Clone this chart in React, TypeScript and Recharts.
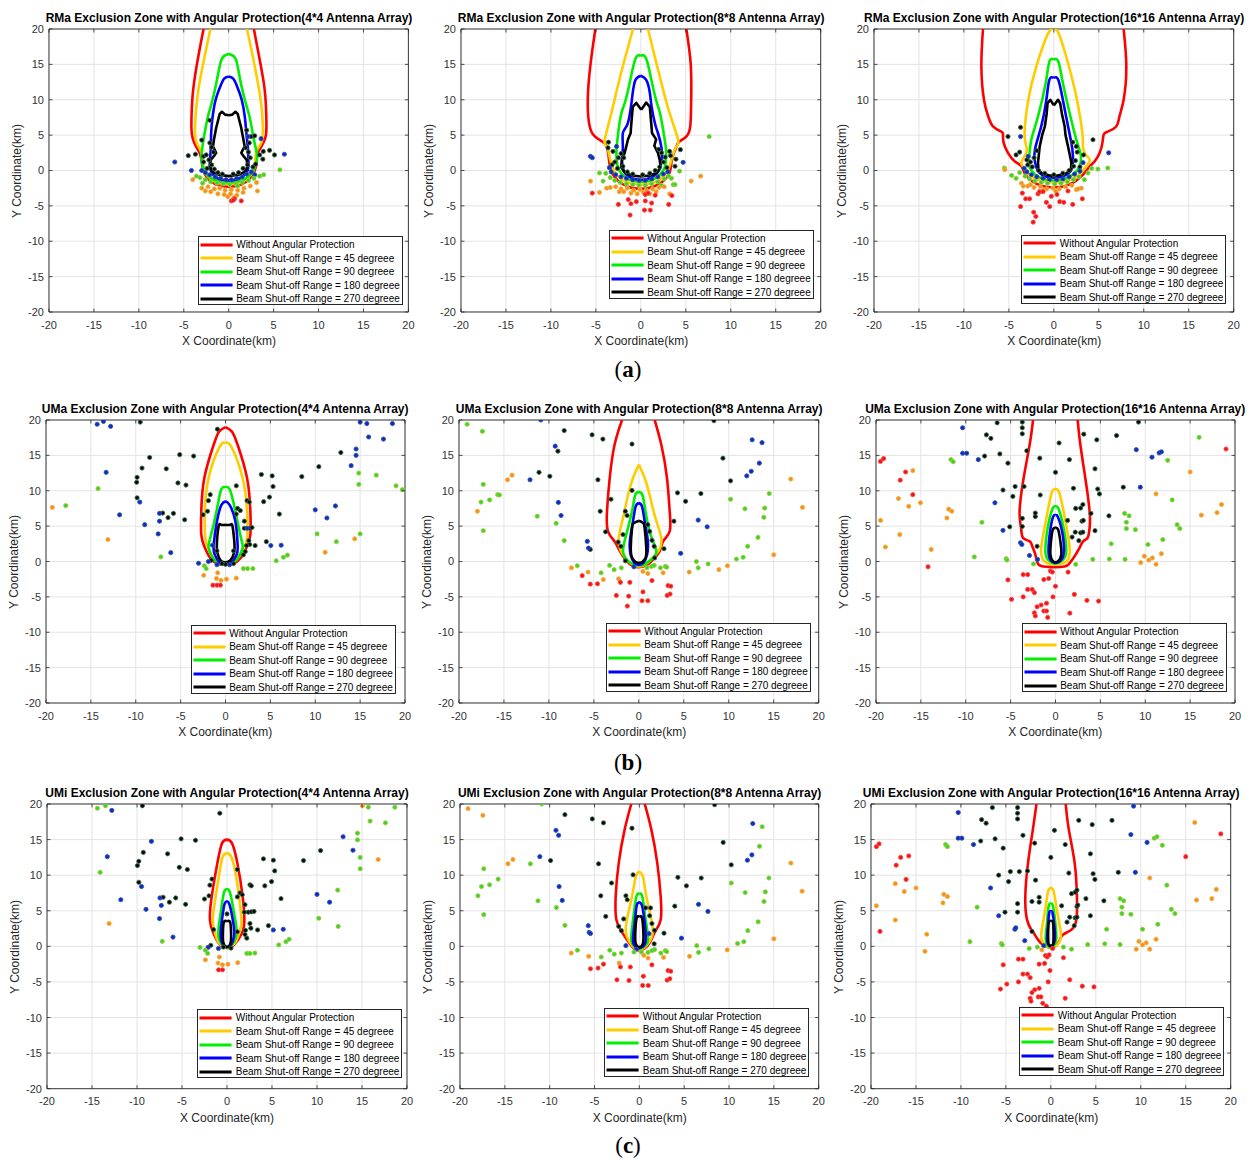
import { ScatterChart, Scatter, XAxis, YAxis, CartesianGrid, ReferenceArea, Legend } from 'recharts';

type Pt = [number, number];
type Dot = [number, number, string];

const FONT = '"Liberation Sans", Arial, Helvetica, sans-serif';

const axisTicks = [-20, -15, -10, -5, 0, 5, 10, 15, 20];

const seriesNames = [
    'Without Angular Protection',
    'Beam Shut-off Range = 45 degreee',
    'Beam Shut-off Range = 90 degreee',
    'Beam Shut-off Range = 180 degreee',
    'Beam Shut-off Range = 270 degreee',
];
const seriesColors = ['#ff0000', '#ffcc00', '#00ee00', '#0000ff', '#000000'];

// marker colours for the user points
const dotKinds = ['k', 'b', 'g', 'o', 'r'];
const dotFill: Record<string, string> = { k: '#050505', b: '#0a2ad0', g: '#30d830', o: '#ff8a1c', r: '#ee1515' };
const dotEdge: Record<string, string> = { k: '#3c6e4c', b: '#35569a', g: '#a8c83a', o: '#e4b848', r: '#ff4a4a' };

// ---------- RMa ----------
const rma4Curves: Pt[][] = [
    [[-2.8, 20], [-3.4, 16], [-3.9, 12], [-4.1, 9], [-4.15, 6], [-4.0, 4.5], [-3.6, 3.3], [-3.2, 2.4], [-3.0, 1.2], [-2.8, 0], [-2.3, -1.2], [-1.4, -2.0], [0, -2.3], [1.4, -2.0], [2.3, -1.2], [2.9, 0], [3.1, 1.2], [3.2, 2.4], [3.6, 3.3], [4.05, 4.5], [4.2, 6], [4.15, 9], [3.95, 12], [3.4, 16], [2.8, 20]],
    [[-2.04, 20], [-2.7, 16], [-3.3, 12], [-3.6, 9], [-3.75, 6], [-3.6, 4], [-3.15, 2.9], [-2.9, 1.5], [-2.7, 0], [-2.1, -1.1], [-1.2, -1.7], [0, -1.9], [1.2, -1.7], [2.1, -1.1], [2.75, 0], [2.95, 1.5], [3.15, 2.9], [3.65, 4], [3.8, 6], [3.65, 9], [3.3, 12], [2.7, 16], [2.04, 20]],
    [[0, 16.5], [-0.5, 16.2], [-0.9, 15.3], [-1.37, 12.4], [-1.9, 9.5], [-2.3, 7.7], [-2.6, 5.8], [-2.8, 4.4], [-3.0, 2.6], [-3.0, 1.2], [-2.6, -0.3], [-1.8, -1.2], [-0.9, -1.6], [0, -1.7], [0.9, -1.6], [1.8, -1.2], [2.6, -0.3], [3.1, 1.2], [3.1, 2.6], [2.8, 4.4], [2.6, 5.8], [2.3, 7.7], [1.9, 9.5], [1.34, 12.4], [0.9, 15.3], [0.5, 16.2], [0, 16.5]],
    [[0, 13.3], [-0.5, 13.0], [-0.9, 12.0], [-1.45, 10], [-1.8, 7.5], [-1.95, 5.3], [-2.0, 2.9], [-2.1, 1.2], [-2.0, 0], [-1.5, -0.9], [-0.8, -1.3], [0, -1.4], [0.8, -1.3], [1.5, -0.9], [2.1, 0], [2.2, 1.2], [2.15, 2.9], [1.97, 5.3], [1.8, 7.5], [1.45, 10], [0.9, 12], [0.5, 13], [0, 13.3]],
    [[0, 7.8], [-0.4, 7.9], [-0.75, 8.3], [-1.0, 8.0], [-1.2, 7.0], [-1.4, 6.0], [-1.5, 5.3], [-1.65, 4.3], [-1.75, 3.4], [-1.4, 2.5], [-1.6, 2.1], [-2.0, 1.5], [-2.1, 0.6], [-1.8, -0.2], [-1.1, -0.6], [0, -0.8], [1.1, -0.6], [1.8, -0.2], [2.1, 0.6], [2.0, 1.5], [1.6, 2.1], [1.4, 2.5], [1.78, 3.4], [1.65, 4.3], [1.5, 5.3], [1.4, 6.0], [1.2, 7.0], [1.0, 8.0], [0.75, 8.3], [0.4, 7.9], [0, 7.8]],
];
const rma4Dots: Dot[] = [
    [-6.0, 1.2, 'b'], [-4.5, 2.1, 'k'], [-3.7, 2.3, 'k'], [-3.0, 4.3, 'k'], [-2.1, 7.1, 'k'], [-2.1, 3.9, 'k'], [-2.8, 2.0, 'k'], [-1.9, 3.3, 'k'], [-1.7, 2.6, 'k'], [-2.5, 2.2, 'k'], [-2.2, 1.5, 'k'], [-1.9, 0.8, 'k'], [-2.4, 0.3, 'k'], [-1.6, 0.2, 'k'], [-1.2, -0.3, 'k'], [-0.7, -0.5, 'k'], [0.5, -0.5, 'k'], [1.1, -0.3, 'k'], [1.6, 0.3, 'k'], [2.1, 0.8, 'k'], [2.4, 1.8, 'k'], [2.2, 2.6, 'k'], [1.9, 3.2, 'k'], [2.7, 0.5, 'k'], [3.0, 0.9, 'k'], [-2.8, 1.2, 'k'], [2.3, 3.9, 'k'], [2.0, 5.7, 'k'], [2.5, 4.8, 'k'], [2.9, 4.9, 'k'], [3.45, 2.2, 'k'], [3.85, 2.7, 'k'], [3.8, 1.6, 'k'], [4.55, 2.85, 'k'], [5.1, 2.2, 'k'],
    [2.15, 4.8, 'b'], [3.6, 4.5, 'b'], [6.2, 2.3, 'b'], [-4.15, 0, 'b'], [-2.6, -0.3, 'b'], [-2.1, -0.6, 'b'], [-1.5, -0.9, 'b'], [-0.9, -1.1, 'b'], [-0.3, -1.3, 'b'], [0.3, -1.3, 'b'], [0.9, -1.1, 'b'], [1.5, -0.9, 'b'], [2.0, -0.5, 'b'], [2.5, -0.2, 'b'], [-3.0, 0.0, 'b'], [2.9, -0.6, 'b'],
    [5.7, 0.1, 'g'], [3.9, -0.6, 'g'], [3.45, -0.8, 'g'], [-3.6, -0.8, 'g'], [-3.2, -1.0, 'g'], [-2.6, -1.3, 'g'], [-2.0, -1.6, 'g'], [-1.3, -1.8, 'g'], [-0.6, -1.9, 'g'], [0.1, -2.0, 'g'], [0.8, -1.9, 'g'], [1.5, -1.7, 'g'], [2.2, -1.4, 'g'], [2.8, -1.1, 'g'], [-2.9, -1.8, 'g'], [1.0, -2.2, 'g'],
    [3.1, -1.7, 'o'], [3.2, -2.9, 'o'], [-4.0, -1.3, 'o'], [-3.0, -2.5, 'o'], [-2.3, -2.3, 'o'], [-1.6, -2.6, 'o'], [-1.0, -2.5, 'o'], [-0.4, -2.8, 'o'], [0.3, -2.7, 'o'], [1.0, -2.8, 'o'], [1.7, -2.5, 'o'], [2.4, -2.2, 'o'], [-2.0, -3.0, 'o'], [-1.2, -3.3, 'o'], [-0.5, -3.4, 'o'], [0.2, -3.3, 'o'], [0.9, -3.5, 'o'], [1.6, -3.1, 'o'], [-2.6, -2.9, 'o'], [-0.1, -3.7, 'o'], [0.6, -3.8, 'o'],
    [1.4, -4.3, 'r'], [0.3, -4.3, 'r'], [0.65, -4.0, 'r'], [0.5, -4.2, 'r'],
];

const rma8Curves: Pt[][] = [
    [[-5.06, 20], [-5.6, 15], [-5.9, 10], [-5.7, 6.3], [-5.1, 4.8], [-4.3, 4.1], [-3.8, 3.4], [-3.6, 2.2], [-3.5, 1.1], [-3.2, -0.3], [-2.5, -1.5], [-1.4, -2.3], [0, -2.6], [1.4, -2.3], [2.5, -1.5], [3.2, -0.3], [3.4, 1.1], [3.6, 2.2], [3.95, 3.4], [4.3, 4.1], [5.06, 4.8], [5.5, 6.3], [5.6, 10], [5.55, 15], [5.06, 20]],
    [[-0.87, 20], [-1.5, 17.1], [-2.47, 12.4], [-3.28, 8.1], [-4.0, 4.4], [-3.9, 3.5], [-3.65, 2.95], [-3.4, 1.5], [-3.0, 0], [-2.2, -1.2], [-1.2, -1.8], [0, -2.0], [1.2, -1.8], [2.2, -1.2], [3.0, 0], [3.4, 1.5], [3.76, 2.95], [4.0, 3.5], [4.13, 4.4], [3.2, 8.1], [2.28, 12.4], [1.35, 17.1], [0.8, 20]],
    [[0, 16.2], [-0.6, 15.8], [-1.24, 12.4], [-1.8, 9.5], [-2.24, 7.7], [-2.6, 4.4], [-2.7, 3.0], [-2.7, 1.5], [-2.4, 0], [-1.7, -1.0], [-0.9, -1.5], [0, -1.6], [0.9, -1.5], [1.7, -1.0], [2.5, 0], [2.8, 1.5], [2.8, 3.0], [2.65, 4.4], [2.2, 7.7], [1.8, 9.5], [1.24, 12.4], [0.6, 15.8], [0, 16.2]],
    [[0, 13.4], [-0.6, 12.8], [-0.9, 11], [-1.1, 9], [-1.5, 6.5], [-2.0, 5.3], [-2.0, 3.2], [-2.1, 1.5], [-1.9, 0], [-1.4, -0.8], [-0.7, -1.2], [0, -1.3], [0.7, -1.2], [1.4, -0.8], [2.0, 0], [2.3, 1.5], [2.3, 3.2], [1.9, 5.3], [1.6, 6.5], [1.2, 9], [1.0, 11], [0.6, 12.8], [0, 13.4]],
    [[0.05, 8.6], [-0.5, 9.55], [-0.9, 9.0], [-1.0, 7.5], [-1.1, 6.0], [-1.13, 5.3], [-1.43, 4.4], [-1.6, 3.5], [-1.8, 2.5], [-2.1, 1.5], [-2.2, 0.5], [-1.8, -0.3], [-1.0, -0.7], [0, -0.85], [1.0, -0.7], [1.8, -0.3], [2.2, 0.5], [2.1, 1.5], [1.9, 2.5], [1.5, 3.5], [1.7, 4.4], [1.24, 5.3], [1.2, 6.0], [1.1, 7.5], [1.0, 9.0], [0.6, 9.6], [0.05, 8.6]],
];
const rma8Dots: Dot[] = [
    [-5.6, 2.0, 'b'], [-5.4, 1.8, 'b'], [-4.6, -0.35, 'g'], [-5.6, -1.5, 'o'], [-5.4, -3.2, 'r'], [-4.6, -3.1, 'o'], [-4.2, -1.5, 'g'], [-3.8, -2.5, 'o'], [-2.5, -4.8, 'r'], [-1.4, -4.1, 'r'], [-1.1, -4.7, 'r'], [-0.5, -4.4, 'r'], [-1.2, -6.3, 'r'], [0.5, -4.3, 'r'], [1.2, -4.6, 'r'], [0.4, -5.6, 'r'], [1.05, -5.6, 'r'], [3.1, -4.8, 'r'], [3.45, -3.55, 'r'], [3.2, -3.3, 'o'], [3.6, -2.0, 'g'], [3.8, -2.0, 'g'], [3.4, -1.1, 'g'], [4.3, -0.1, 'g'], [4.7, 1.15, 'b'], [4.4, 2.95, 'k'], [5.6, -1.5, 'o'], [6.65, -0.8, 'o'], [7.6, 4.8, 'g'], [3.8, 0.6, 'k'], [3.9, 1.6, 'k'], [3.2, 2.7, 'k'], [3.3, 2.1, 'k'], [-3.6, 4.0, 'k'], [-3.65, 3.2, 'k'], [-3.1, 2.7, 'k'], [-2.7, 3.4, 'b'],
    [-2.9, 1.2, 'k'], [-2.5, 1.8, 'k'], [-2.2, 2.4, 'k'], [-2.0, 0.6, 'k'], [-2.6, 0.3, 'k'], [-1.5, -0.2, 'k'], [-0.9, -0.5, 'k'], [0.2, -0.6, 'k'], [1.0, -0.4, 'k'], [1.6, 0.0, 'k'], [2.1, 0.5, 'k'], [2.5, 1.2, 'k'], [2.7, 1.9, 'k'], [2.3, 2.5, 'k'], [-1.9, 1.8, 'k'], [2.9, 0.4, 'k'], [-3.2, 0.8, 'k'], [2.0, 3.0, 'k'],
    [-3.3, -0.2, 'b'], [-2.8, -0.6, 'b'], [-2.2, -0.9, 'b'], [-1.6, -1.1, 'b'], [-0.9, -1.3, 'b'], [-0.2, -1.4, 'b'], [0.5, -1.4, 'b'], [1.2, -1.2, 'b'], [1.9, -0.9, 'b'], [2.5, -0.5, 'b'], [3.0, -0.2, 'b'], [-3.5, 0.4, 'b'],
    [-3.4, -1.0, 'g'], [-2.9, -1.4, 'g'], [-2.3, -1.7, 'g'], [-1.6, -1.9, 'g'], [-0.9, -2.0, 'g'], [-0.2, -2.1, 'g'], [0.5, -2.1, 'g'], [1.2, -1.9, 'g'], [1.9, -1.6, 'g'], [2.6, -1.2, 'g'], [3.1, -0.8, 'g'], [-3.9, -0.4, 'g'], [2.3, -2.1, 'g'],
    [-3.4, -2.4, 'o'], [-2.8, -2.3, 'o'], [-2.2, -2.6, 'o'], [-1.5, -2.5, 'o'], [-0.8, -2.8, 'o'], [-0.1, -2.7, 'o'], [0.6, -2.8, 'o'], [1.3, -2.6, 'o'], [2.0, -2.4, 'o'], [2.6, -2.3, 'o'], [-1.9, -3.0, 'o'], [-1.1, -3.2, 'o'], [-0.4, -3.3, 'o'], [0.3, -3.1, 'o'], [1.0, -3.3, 'o'], [1.7, -3.0, 'o'], [-2.4, -3.0, 'o'],
    [0.5, -3.4, 'r'], [0.8, -3.2, 'r'], [1.6, -3.5, 'r'],
];

const rma16Curves: Pt[][] = [
    [[-7.88, 20], [-8.06, 14.7], [-7.77, 10], [-7.3, 7.66], [-6.77, 6.25], [-5.84, 5.5], [-5.65, 5.07], [-5.58, 3.9], [-5.1, 2.5], [-4.36, 1.3], [-3.6, 0.6], [-3.2, -0.5], [-2.4, -1.5], [-1.3, -2.2], [0, -2.4], [1.3, -2.2], [2.4, -1.5], [3.3, -0.5], [4.0, 0.6], [4.54, 1.3], [5.1, 2.5], [5.4, 3.9], [5.54, 5.07], [6.0, 5.5], [6.95, 6.25], [7.3, 7.66], [7.76, 10], [8.06, 14.7], [7.76, 20]],
    [[0, 20], [-0.7, 19.2], [-1.95, 14.7], [-2.84, 10], [-3.25, 5.3], [-3.06, 3.4], [-3.1, 2.4], [-3.6, 1.2], [-3.4, 0.5], [-2.8, -0.5], [-1.8, -1.3], [0, -1.7], [1.8, -1.3], [2.9, -0.5], [3.6, 0.6], [4.0, 1.5], [3.5, 2.3], [3.24, 3.4], [3.17, 5.3], [2.57, 10], [1.68, 14.7], [0.6, 19.2], [0, 20]],
    [[0, 15.7], [-0.5, 15.4], [-0.9, 12.4], [-1.76, 7.66], [-2.5, 4.36], [-2.7, 2.5], [-2.8, 1.2], [-2.5, 0], [-1.7, -0.9], [-0.8, -1.3], [0, -1.4], [0.8, -1.3], [1.7, -0.9], [2.6, 0], [3.0, 1.2], [2.95, 2.5], [2.5, 4.36], [1.84, 7.66], [1.0, 12.4], [0.5, 15.4], [0, 15.7]],
    [[0, 13.1], [-0.5, 12.8], [-0.83, 10], [-1.4, 6.25], [-2.1, 3.0], [-2.1, 1.2], [-1.8, 0], [-1.2, -0.7], [0, -1.0], [1.2, -0.7], [1.9, 0], [2.1, 1.2], [2.06, 3.0], [1.58, 6.25], [1.0, 10], [0.5, 12.8], [0, 13.1]],
    [[0, 9.2], [-0.39, 10.0], [-0.7, 9.5], [-0.8, 8], [-1.0, 6.25], [-1.3, 5], [-1.57, 3.4], [-1.76, 1.1], [-1.7, 0], [-1.2, -0.5], [0, -0.8], [1.2, -0.5], [1.9, 0], [1.95, 1.1], [1.58, 3.4], [1.3, 5], [1.2, 6.25], [0.9, 8], [0.7, 9.5], [0.46, 10.0], [0, 9.2]],
];
const rma16Dots: Dot[] = [
    [-5.1, 4.8, 'k'], [-3.7, 6.1, 'k'], [-3.7, 4.8, 'b'], [-3.8, 2.6, 'k'], [-4.2, 2.2, 'k'], [-2.85, 2.0, 'b'], [-3.0, 1.5, 'k'], [4.35, 4.35, 'k'], [2.1, 4.0, 'k'], [2.5, 3.4, 'k'], [3.3, 2.2, 'k'], [3.25, 1.1, 'b'], [6.1, 2.5, 'b'], [6.0, 0.35, 'g'], [4.9, 0.2, 'g'], [4.2, 0.3, 'g'], [3.8, -0.35, 'g'], [3.4, -1.3, 'g'], [3.05, -2.5, 'o'], [2.5, -2.7, 'o'],
    [1.57, -2.9, 'r'], [2.1, -4.8, 'r'], [3.17, -4.0, 'r'], [1.1, -4.5, 'r'], [0.65, -4.4, 'r'], [0.35, -3.4, 'r'], [-0.28, -3.65, 'r'], [-0.46, -5.1, 'r'], [-0.83, -4.5, 'r'], [-1.76, -3.3, 'r'], [-1.6, -3.0, 'r'], [-2.7, -4.0, 'r'], [-3.13, -4.0, 'r'], [-3.5, -3.2, 'r'], [-3.7, -5.1, 'r'], [-2.24, -5.9, 'r'], [-2.0, -6.5, 'r'], [-2.3, -7.3, 'r'], [-1.2, -3.0, 'r'],
    [-5.5, 0.35, 'g'], [-5.45, 0.1, 'o'], [-4.7, -0.7, 'g'], [-4.2, -1.1, 'g'], [-3.6, -1.8, 'o'], [-3.4, -2.2, 'o'], [-2.6, -2.0, 'o'],
    [-2.6, 1.2, 'k'], [-2.2, 1.8, 'k'], [-2.4, 0.5, 'k'], [-1.7, 0.0, 'k'], [-1.0, -0.4, 'k'], [0.0, -0.6, 'k'], [1.0, -0.4, 'k'], [1.7, 0.0, 'k'], [2.2, 0.6, 'k'], [2.4, 1.4, 'k'], [2.6, 2.6, 'k'], [-1.9, 2.8, 'k'], [-2.9, 0.8, 'k'], [2.9, 0.5, 'k'],
    [-3.0, -0.2, 'b'], [-2.5, -0.6, 'b'], [-1.9, -0.9, 'b'], [-1.2, -1.1, 'b'], [-0.5, -1.3, 'b'], [0.3, -1.3, 'b'], [1.0, -1.2, 'b'], [1.7, -0.9, 'b'], [2.3, -0.5, 'b'], [2.9, -0.1, 'b'], [-3.3, 0.3, 'b'],
    [-3.2, -0.8, 'g'], [-2.7, -1.2, 'g'], [-2.1, -1.5, 'g'], [-1.4, -1.7, 'g'], [-0.7, -1.8, 'g'], [0.1, -1.9, 'g'], [0.8, -1.8, 'g'], [1.5, -1.6, 'g'], [2.2, -1.3, 'g'], [2.8, -0.9, 'g'], [-3.8, -0.3, 'g'],
    [-2.9, -2.2, 'o'], [-2.2, -2.4, 'o'], [-1.5, -2.3, 'o'], [-0.8, -2.6, 'o'], [-0.1, -2.5, 'o'], [0.6, -2.6, 'o'], [1.3, -2.3, 'o'], [2.0, -2.1, 'o'], [2.7, -2.6, 'o'], [-1.2, -2.8, 'o'], [0.2, -2.9, 'o'],
];

// ---------- UMa ----------
const uma4Curves: Pt[][] = [
    [[0, 19.0], [-0.7, 18.4], [-1.32, 16.5], [-2.36, 11.8], [-2.7, 7.1], [-2.7, 3.8], [-2.36, 2.14], [-1.7, 0.5], [-0.76, -0.35], [0, -0.45], [0.76, -0.35], [1.7, 0.5], [2.4, 2.14], [2.77, 3.8], [2.77, 7.1], [2.4, 11.8], [1.35, 16.5], [0.7, 18.4], [0, 19.0]],
    [[0, 16.75], [-0.7, 16.1], [-1.88, 11.8], [-2.3, 7.1], [-2.25, 3.3], [-1.9, 1.8], [-1.3, 0.4], [-0.6, -0.25], [0, -0.35], [0.6, -0.25], [1.3, 0.4], [2.0, 1.8], [2.4, 3.3], [2.4, 7.1], [1.9, 11.8], [0.7, 16.1], [0, 16.75]],
    [[0, 10.5], [-0.5, 10.1], [-1.0, 7.1], [-1.7, 3.3], [-1.88, 1.9], [-1.4, 0.5], [-0.7, -0.3], [0, -0.45], [0.7, -0.3], [1.4, 0.5], [1.9, 1.9], [1.73, 3.3], [1.1, 7.1], [0.5, 10.1], [0, 10.5]],
    [[0, 8.5], [-0.45, 8.0], [-0.95, 5.7], [-1.32, 2.4], [-1.2, 1.0], [-0.6, -0.2], [0, -0.3], [0.6, -0.2], [1.25, 1.0], [1.35, 2.4], [1.1, 5.7], [0.45, 8.0], [0, 8.5]],
    [[0, 5.2], [-0.5, 5.2], [-0.76, 5.0], [-0.95, 2.85], [-0.9, 1.2], [-0.5, 0.1], [0, -0.1], [0.5, 0.1], [0.95, 1.2], [0.98, 2.85], [0.78, 5.0], [0.54, 5.2], [0, 5.2]],
];
const uma4Dots: Dot[] = [
    [-14.3, 19.4, 'b'], [-13.6, 19.8, 'b'], [-12.8, 19.1, 'b'], [-9.5, 19.7, 'k'], [-19.3, 7.65, 'o'], [-17.8, 7.9, 'g'], [-14.2, 10.3, 'g'], [-13.3, 12.6, 'b'], [-13.1, 3.1, 'o'], [-11.8, 6.6, 'b'], [-8.45, 14.7, 'k'], [-9.3, 13.2, 'k'], [-9.85, 11.9, 'k'], [-9.9, 11.2, 'k'], [-9.85, 9.0, 'k'], [-9.55, 8.4, 'b'], [-9.0, 5.2, 'b'], [-7.35, 6.8, 'b'], [-7.0, 6.85, 'k'], [-7.35, 5.7, 'b'], [-6.4, 6.2, 'k'], [-5.8, 6.8, 'k'], [-6.6, 13.1, 'k'], [-5.3, 11.1, 'k'], [-5.1, 15.1, 'k'], [-4.4, 10.8, 'k'], [-3.55, 14.9, 'k'], [-4.55, 5.9, 'k'], [-7.5, 3.9, 'b'], [-7.2, 0.65, 'g'], [-6.1, 1.25, 'b'],
    [-0.9, 18.7, 'k'], [-1.7, 9.45, 'k'], [-1.9, 8.6, 'k'], [-2.0, 7.1, 'k'], [-2.5, 6.6, 'k'], [1.2, 10.7, 'k'], [2.4, 8.6, 'k'], [2.65, 8.4, 'k'], [1.35, 7.5, 'k'], [1.65, 7.2, 'k'], [1.2, 6.7, 'k'], [2.1, 5.7, 'k'], [2.1, 4.7, 'k'], [2.4, 4.7, 'b'], [2.7, 4.7, 'k'], [2.95, 4.8, 'k'], [2.6, 2.95, 'k'], [2.7, 2.4, 'k'], [2.35, 2.25, 'k'], [2.2, 1.4, 'k'], [2.0, 0.95, 'k'], [3.3, 2.25, 'k'], [4.55, 2.8, 'k'], [5.05, 2.25, 'b'], [6.2, 2.3, 'b'], [5.65, 0.1, 'g'], [6.45, 0.6, 'g'], [6.9, 0.9, 'g'],
    [4.0, 12.3, 'k'], [5.2, 12.1, 'k'], [5.3, 10.6, 'k'], [4.25, 8.45, 'k'], [4.9, 9.1, 'k'], [6.0, 6.7, 'k'], [8.5, 12.0, 'k'], [10.4, 13.4, 'k'], [12.85, 15.4, 'k'], [14.0, 13.55, 'b'], [14.55, 15.0, 'b'], [14.55, 15.9, 'b'], [14.85, 12.5, 'g'], [14.85, 10.9, 'g'], [15.0, 19.7, 'b'], [15.75, 19.5, 'b'], [15.95, 17.6, 'b'], [17.6, 17.3, 'b'], [16.8, 12.2, 'g'], [18.6, 19.5, 'b'], [19.0, 10.7, 'g'], [19.7, 10.15, 'g'],
    [10.0, 7.3, 'b'], [11.3, 6.15, 'b'], [12.25, 7.85, 'b'], [10.2, 3.9, 'g'], [11.1, 1.3, 'o'], [12.35, 2.8, 'g'], [14.4, 3.2, 'o'], [15.0, 3.9, 'g'],
    [-3.0, -0.25, 'b'], [-2.35, -0.6, 'g'], [-2.15, -1.0, 'g'], [-2.43, -1.95, 'o'], [-1.6, 0.15, 'k'], [-1.9, 0, 'b'], [-1.45, 2.3, 'b'], [-0.87, -1.6, 'o'], [-1.0, -2.4, 'o'], [-0.5, -2.65, 'o'], [0.1, -2.5, 'o'], [1.2, -2.35, 'o'], [-1.4, -3.35, 'r'], [-0.95, -3.35, 'r'], [-0.57, -3.35, 'r'], [2.0, -1.0, 'g'], [2.45, -1.0, 'g'], [3.05, -1.0, 'g'], [-0.95, -0.45, 'b'], [0.45, -0.45, 'b'], [0, -0.4, 'k'], [-0.4, -0.3, 'k'], [0.9, -0.3, 'k'], [-0.95, 1.5, 'k'], [0.9, 1.5, 'k'],
];

const uma8Curves: Pt[][] = [
    [[-1.87, 20], [-2.7, 16.5], [-3.24, 11.8], [-3.54, 7.1], [-3.43, 4.26], [-2.7, 2.85], [-2.3, 1.9], [-1.76, 0.73], [-1.0, -0.4], [0, -0.8], [1.0, -0.4], [1.57, 0.26], [2.3, 1.44], [2.7, 2.85], [3.43, 4.26], [3.43, 7.1], [3.13, 11.8], [2.5, 16.5], [1.76, 20]],
    [[0, 13.7], [-0.65, 11.8], [-1.2, 9.4], [-1.76, 6.15], [-2.24, 3.3], [-2.0, 1.5], [-1.3, 0.2], [-0.6, -0.5], [0, -0.7], [0.6, -0.5], [1.3, 0.2], [2.2, 1.5], [2.5, 3.3], [1.84, 6.15], [1.2, 9.4], [0.65, 11.8], [0, 13.7]],
    [[0, 9.8], [-0.4, 9.4], [-0.76, 7.1], [-1.4, 3.8], [-1.76, 1.44], [-1.3, 0.2], [-0.6, -0.4], [0, -0.55], [0.6, -0.4], [1.4, 0.3], [1.95, 1.44], [1.3, 3.8], [0.74, 7.1], [0.4, 9.4], [0, 9.8]],
    [[0, 8.25], [-0.35, 7.8], [-0.65, 5.7], [-1.0, 2.85], [-0.9, 0.9], [-0.5, -0.2], [0, -0.45], [0.5, -0.2], [0.9, 0.9], [1.0, 2.85], [0.65, 5.7], [0.35, 7.8], [0, 8.25]],
    [[0, 5.77], [-0.3, 5.6], [-0.6, 5.4], [-0.76, 4.7], [-0.9, 1.9], [-0.7, 0.4], [0, -0.2], [0.7, 0.4], [0.83, 1.9], [0.65, 4.7], [0.5, 5.4], [0.3, 5.6], [0, 5.77]],
];
const uma8Dots: Dot[] = [
    [-19.1, 19.4, 'g'], [-17.4, 18.4, 'g'], [-17.3, 10.9, 'g'], [-17.55, 8.4, 'g'], [-17.95, 7.1, 'o'], [-16.6, 8.7, 'g'], [-15.7, 9.45, 'g'], [-15.5, 9.4, 'g'], [-17.3, 4.35, 'g'], [-14.6, 11.55, 'o'], [-14.1, 12.2, 'o'], [-12.1, 11.55, 'b'], [-11.3, 6.4, 'g'], [-11.1, 12.6, 'k'], [-10.9, 20, 'b'], [-9.9, 12.05, 'k'], [-9.3, 16.3, 'b'], [-9.0, 15.6, 'k'], [-8.95, 8.35, 'b'], [-8.65, 6.5, 'b'], [-9.2, 5.4, 'g'], [-8.3, 2.95, 'g'], [-8.3, 18.5, 'k'], [-5.2, 17.9, 'k'], [-4.0, 17.3, 'k'], [-4.55, 11.55, 'k'], [-4.3, 7.1, 'k'], [-3.7, 4.2, 'k'], [-3.1, 8.8, 'k'],
    [-0.76, 16.6, 'k'], [-0.76, 10.05, 'k'], [-1.5, 7.1, 'k'], [-1.3, 6.5, 'k'], [-1.76, 3.8, 'k'], [-2.3, 2.75, 'k'], [-2.0, 2.15, 'k'], [-1.5, 0.1, 'k'], [-0.55, -0.75, 'b'], [1.0, 5.2, 'k'], [1.2, 4.25, 'k'], [1.46, 3.0, 'k'], [1.7, 2.15, 'k'], [1.76, 0.5, 'k'], [2.8, 1.8, 'k'], [-5.73, 2.85, 'b'], [-5.6, 1.9, 'b'], [-5.4, 1.7, 'k'],
    [-7.5, -0.9, 'o'], [-6.85, -0.6, 'g'], [-6.3, -2.0, 'r'], [-5.65, -1.5, 'o'], [-5.4, -3.2, 'r'], [-4.6, -3.15, 'r'], [-4.2, -1.6, 'g'], [-3.95, -2.55, 'o'], [-3.25, -0.55, 'g'], [-2.75, -1.15, 'g'], [-2.25, -2.45, 'o'], [-2.05, -2.95, 'r'], [-1.95, -0.9, 'g'], [-1.0, -2.95, 'r'], [-2.5, -4.8, 'r'], [-1.13, -4.9, 'r'], [-1.28, -6.3, 'r'], [0.46, -4.3, 'r'], [0.35, -5.55, 'r'], [1.0, -5.55, 'r'], [1.46, -2.7, 'r'], [0.46, -1.4, 'o'], [1.0, -1.7, 'o'], [0.9, -0.9, 'g'], [1.4, -0.7, 'g'], [1.7, -0.55, 'g'], [2.4, -0.9, 'g'], [2.7, -1.6, 'o'], [2.95, -0.7, 'g'], [3.1, -0.8, 'g'], [3.25, -3.4, 'r'], [3.55, -3.5, 'r'], [3.15, -4.8, 'r'], [3.47, -4.6, 'r'],
    [4.65, 1.15, 'b'], [3.9, 5.7, 'k'], [4.3, 9.7, 'k'], [5.2, 8.5, 'k'], [6.9, 9.6, 'k'], [6.6, 5.85, 'b'], [7.6, 4.9, 'b'], [5.6, -1.5, 'o'], [6.4, 0, 'g'], [6.6, -0.9, 'g'], [7.7, -0.35, 'g'], [8.9, -1.15, 'o'], [9.85, -0.6, 'o'], [10.85, 0.35, 'g'], [11.6, 0.6, 'g'], [12.1, 2.15, 'g'], [13.25, 3.4, 'g'], [13.9, 6.25, 'g'], [14.0, 7.55, 'g'], [11.8, 7.45, 'g'], [10.2, 8.8, 'g'], [14.5, 9.6, 'g'], [15.0, 0.95, 'o'], [16.9, 11.65, 'o'], [18.2, 7.65, 'o'],
    [8.35, 19.9, 'k'], [9.35, 14.6, 'k'], [10.2, 11.4, 'k'], [12.0, 12.1, 'b'], [12.5, 12.75, 'b'], [13.4, 13.9, 'b'], [12.6, 17.2, 'b'], [13.7, 16.8, 'b'],
];

const uma16Curves: Pt[][] = [
    [[-2.5, 20], [-2.88, 16.5], [-3.55, 11.8], [-4.0, 7.1], [-3.84, 4.75], [-3.62, 3.34], [-2.9, 2.87], [-2.6, 2.2], [-2.25, 1.0], [-1.9, -0.4], [-1.0, -0.75], [0, -0.8], [1.0, -0.7], [1.46, -0.4], [2.0, 0.5], [2.58, 1.7], [3.1, 2.87], [3.58, 3.34], [3.8, 4.75], [3.8, 7.1], [3.32, 11.8], [2.77, 16.5], [2.47, 20]],
    [[0, 10.25], [-0.4, 9.8], [-0.87, 7.1], [-1.43, 3.34], [-1.6, 1.2], [-1.2, 0], [-0.5, -0.35], [0, -0.4], [0.5, -0.35], [1.2, 0], [1.58, 1.2], [1.43, 3.34], [0.9, 7.1], [0.4, 9.8], [0, 10.25]],
    [[0, 7.8], [-0.35, 7.4], [-0.87, 4.75], [-1.13, 1.45], [-0.8, 0.2], [0, -0.3], [0.8, 0.2], [1.2, 1.45], [0.9, 4.75], [0.35, 7.4], [0, 7.8]],
    [[0, 6.55], [-0.3, 6.2], [-0.65, 3.8], [-0.76, 1.0], [-0.4, 0], [0, -0.2], [0.45, 0], [0.9, 1.0], [0.8, 3.8], [0.3, 6.2], [0, 6.55]],
    [[0, 4.75], [-0.3, 4.5], [-0.5, 2.87], [-0.57, 1.0], [-0.3, 0.05], [0, -0.1], [0.3, 0.05], [0.65, 1.0], [0.54, 2.87], [0.3, 4.5], [0, 4.75]],
];
const uma16Dots: Dot[] = [
    [-19.5, 14.15, 'r'], [-19.15, 14.55, 'r'], [-16.7, 12.65, 'r'], [-17.3, 11.5, 'r'], [-15.9, 9.45, 'r'], [-14.2, -0.75, 'r'],
    [-19.5, 5.8, 'o'], [-18.95, 2.05, 'o'], [-17.5, 8.9, 'o'], [-16.35, 7.8, 'o'], [-15.9, 12.85, 'o'], [-15.05, 8.3, 'o'], [-17.35, 3.8, 'o'], [-13.85, 1.7, 'o'], [-11.9, 7.4, 'o'], [-11.55, 7.1, 'o'], [-12.1, 6.15, 'o'],
    [-11.65, 14.4, 'g'], [-11.4, 14.1, 'g'], [-8.2, 5.55, 'g'], [-9.05, 0.65, 'g'], [-5.5, 0.4, 'g'], [-5.4, 0.2, 'g'], [-2.45, -0.35, 'g'],
    [-10.35, 18.9, 'b'], [-10.35, 15.3, 'b'], [-9.9, 15.3, 'b'], [-8.6, 14.4, 'b'], [-6.75, 8.3, 'b'], [-5.85, 4.4, 'b'], [-3.9, 2.65, 'b'], [-3.75, 2.4, 'b'], [-2.9, 0.85, 'b'], [-2.0, 0.3, 'b'],
    [-6.5, 19.6, 'k'], [-3.7, 19.7, 'k'], [-3.7, 18.9, 'k'], [-3.7, 18.05, 'k'], [-7.7, 17.9, 'k'], [-7.2, 17.4, 'k'], [-7.9, 14.9, 'k'], [-6.2, 15.2, 'k'], [-5.3, 13.9, 'k'], [-3.2, 15.65, 'k'], [-5.85, 10.1, 'k'], [-4.75, 9.2, 'k'], [-4.5, 10.6, 'k'], [-3.5, 10.6, 'k'], [-3.7, 6.1, 'k'], [-3.7, 4.95, 'k'], [-5.1, 4.9, 'k'], [-1.75, 14.6, 'k'], [-1.7, 9.4, 'k'], [-2.25, 6.35, 'k'], [-2.25, 6.85, 'k'], [-2.05, 2.15, 'k'],
    [0, 12.6, 'k'], [0.4, 16.75, 'k'], [1.55, 14.4, 'k'], [2.0, 10.35, 'k'], [2.25, 7.5, 'k'], [2.8, 7.55, 'k'], [3.05, 8.05, 'k'], [1.35, 5.8, 'k'], [2.95, 5.7, 'k'], [3.1, 5.8, 'k'], [2.2, 4.15, 'k'], [2.8, 4.05, 'k'], [3.05, 4.15, 'k'], [2.6, 2.95, 'k'], [1.85, 3.45, 'k'], [3.15, 18.0, 'k'], [4.6, 17.2, 'k'], [4.4, 13.1, 'k'], [4.7, 10.25, 'k'], [4.9, 9.55, 'k'], [3.95, 6.8, 'k'], [4.4, 4.35, 'k'], [5.95, 6.45, 'k'], [6.8, 17.8, 'k'], [7.55, 10.5, 'k'], [9.25, 19.7, 'k'],
    [9.0, 15.8, 'b'], [9.45, 10.5, 'b'], [10.75, 14.75, 'b'], [11.55, 15.35, 'b'], [11.8, 15.5, 'b'],
    [12.5, 14.3, 'g'], [16.0, 17.55, 'g'], [6.2, 2.5, 'g'], [6.0, 0.35, 'g'], [4.15, 0.3, 'g'], [7.7, 6.8, 'g'], [8.2, 6.45, 'g'], [7.9, 5.55, 'g'], [7.9, 4.65, 'g'], [8.9, 4.5, 'g'], [13.0, 8.7, 'g'], [13.55, 5.2, 'g'], [13.85, 4.65, 'g'], [11.95, 3.1, 'g'], [10.3, 2.4, 'g'], [7.75, 0.3, 'g'], [2.25, -0.4, 'g'],
    [9.5, -0.15, 'o'], [9.9, 0.75, 'o'], [10.4, 0.2, 'o'], [10.8, 0.5, 'o'], [11.2, -0.4, 'o'], [11.8, 1.1, 'o'], [11.2, 9.55, 'o'], [15.0, 12.65, 'o'], [16.25, 6.55, 'o'], [18.0, 6.9, 'o'], [18.5, 8.05, 'o'],
    [19.0, 15.9, 'r'], [-3.6, -1.85, 'r'], [-3.1, -1.85, 'r'], [-5.3, -2.6, 'r'], [-1.3, -2.55, 'r'], [-0.76, -2.4, 'r'], [0, -3.5, 'r'], [-3.1, -3.95, 'r'], [-2.6, -3.95, 'r'], [-2.35, -4.4, 'r'], [-3.6, -5.0, 'r'], [-4.9, -5.35, 'r'], [-0.28, -5.0, 'r'], [2.1, -4.65, 'r'], [3.5, -5.5, 'r'], [4.8, -5.6, 'r'], [-1.0, -5.9, 'r'], [-1.6, -6.15, 'r'], [-2.05, -6.4, 'r'], [-2.35, -7.25, 'r'], [-2.25, -7.7, 'r'], [-1.3, -7.0, 'r'], [-1.0, -7.0, 'r'], [-0.87, -7.9, 'r'], [1.6, -7.3, 'r'], [1.4, -1.5, 'r'], [-0.57, -1.35, 'r'], [-0.35, -1.5, 'r'],
];

// ---------- UMi ----------
const umi4Curves: Pt[][] = [
    [[0, 15.0], [-0.55, 14.5], [-1.07, 11.7], [-1.7, 7.0], [-1.9, 3.75], [-1.52, 1.87], [-0.78, 0.23], [0, -0.23], [0.78, 0.23], [1.67, 1.87], [1.93, 3.75], [1.74, 7.0], [1.15, 11.7], [0.55, 14.5], [0, 15.0]],
    [[0, 13.1], [-0.5, 12.5], [-0.96, 9.4], [-1.52, 4.7], [-1.52, 2.8], [-1.0, 0.7], [-0.4, 0], [0, -0.2], [0.4, 0], [1.0, 0.7], [1.55, 2.8], [1.55, 4.7], [1.07, 9.4], [0.5, 12.5], [0, 13.1]],
    [[0, 8.0], [-0.35, 7.5], [-0.7, 4.7], [-0.96, 1.87], [-0.6, 0.3], [0, -0.15], [0.6, 0.3], [1.07, 1.87], [0.78, 4.7], [0.35, 7.5], [0, 8.0]],
    [[0, 6.3], [-0.3, 5.8], [-0.6, 3.3], [-0.7, 1.4], [-0.4, 0.1], [0, -0.1], [0.4, 0.1], [0.78, 1.4], [0.7, 3.3], [0.3, 5.8], [0, 6.3]],
    [[0, 3.5], [-0.35, 3.4], [-0.45, 2.0], [-0.4, 0.5], [0, -0.1], [0.4, 0.5], [0.45, 2.0], [0.35, 3.4], [0, 3.5]],
];
const umi4Dots: Dot[] = [
    [-14.4, 19.4, 'g'], [-13.5, 19.75, 'g'], [-12.8, 19.1, 'b'], [-9.4, 19.75, 'k'], [-0.8, 18.7, 'k'], [-14.1, 10.4, 'g'], [-13.3, 12.6, 'b'], [-13.1, 3.2, 'o'], [-11.8, 6.55, 'b'], [-8.4, 14.75, 'b'], [-9.3, 13.2, 'k'], [-9.8, 11.95, 'k'], [-9.95, 11.35, 'k'], [-9.8, 9.0, 'k'], [-9.5, 8.4, 'b'], [-9.0, 5.2, 'b'], [-7.45, 6.8, 'b'], [-7.1, 6.9, 'k'], [-7.3, 5.75, 'b'], [-7.5, 3.9, 'b'], [-7.2, 0.7, 'g'], [-6.0, 1.3, 'b'], [-6.6, 13.0, 'k'], [-6.4, 6.2, 'k'], [-5.7, 6.8, 'k'], [-5.1, 15.1, 'k'], [-5.3, 11.1, 'k'], [-4.4, 10.8, 'k'], [-3.5, 14.9, 'k'], [-4.6, 5.9, 'k'],
    [-1.67, 9.45, 'k'], [-1.9, 8.6, 'k'], [-2.0, 7.1, 'k'], [-2.5, 6.65, 'k'], [-1.5, 2.35, 'k'], [-1.8, 0.15, 'k'], [-2.1, -0.15, 'b'], [-3.0, -0.15, 'g'], [-2.4, -0.55, 'g'], [-2.15, -1.0, 'g'], [-2.4, -1.9, 'o'], [-0.85, -1.5, 'o'], [-1.0, -2.35, 'o'], [-0.5, -2.6, 'o'], [0.1, -2.5, 'o'], [1.2, -2.3, 'o'], [-0.93, -3.3, 'r'], [-0.5, -3.3, 'r'], [-0.95, -0.3, 'b'], [0, 4.55, 'k'], [-0.4, -0.1, 'k'], [0.45, -0.25, 'k'],
    [1.15, 10.8, 'k'], [1.15, 6.95, 'k'], [1.45, 7.5, 'k'], [1.7, 7.25, 'k'], [2.0, 5.85, 'k'], [1.93, 4.8, 'k'], [2.37, 4.8, 'k'], [2.7, 4.85, 'k'], [3.0, 4.9, 'k'], [2.55, 8.65, 'k'], [2.7, 8.5, 'k'], [2.55, 3.2, 'k'], [2.65, 2.55, 'k'], [2.05, 2.25, 'k'], [2.0, 1.65, 'k'], [2.2, 1.15, 'k'], [1.15, 2.05, 'k'], [3.4, 2.3, 'k'], [4.6, 2.9, 'k'], [5.15, 2.3, 'b'], [6.25, 2.4, 'b'],
    [4.05, 12.3, 'k'], [5.15, 12.1, 'k'], [5.3, 10.6, 'k'], [4.2, 8.5, 'k'], [4.95, 9.1, 'k'], [6.0, 6.7, 'k'], [8.5, 12.05, 'k'], [10.4, 13.45, 'k'], [12.9, 15.4, 'b'], [14.0, 13.5, 'b'], [10.0, 7.3, 'b'], [11.4, 6.2, 'b'], [12.3, 7.9, 'g'], [10.2, 3.95, 'g'], [12.35, 2.8, 'g'], [5.75, 0.2, 'g'], [6.55, 0.65, 'g'], [6.9, 1.0, 'g'], [2.2, -1.0, 'g'], [2.55, -1.0, 'g'], [3.1, -0.95, 'g'],
    [15.05, 19.75, 'o'], [15.7, 19.55, 'g'], [15.9, 17.6, 'g'], [17.6, 17.35, 'g'], [14.5, 15.9, 'g'], [14.5, 14.95, 'g'], [14.8, 12.5, 'g'], [14.8, 10.9, 'g'], [16.8, 12.2, 'o'], [18.65, 19.55, 'g'],
];

const umi8Curves: Pt[][] = [
    [[-0.9, 20], [-1.64, 16.4], [-2.3, 11.7], [-2.64, 7.0], [-2.56, 3.75], [-2.0, 2.1], [-1.26, 0.7], [-0.6, -0.3], [0, -0.56], [0.6, -0.3], [1.2, 0.6], [1.78, 2.1], [2.38, 3.75], [2.38, 7.0], [2.0, 11.7], [1.34, 16.4], [0.6, 20]],
    [[0, 10.5], [-0.4, 9.8], [-0.82, 7.0], [-1.45, 3.3], [-1.4, 1.4], [-0.8, 0.1], [0, -0.45], [0.8, 0.1], [1.41, 1.4], [1.41, 3.3], [0.78, 7.0], [0.4, 9.8], [0, 10.5]],
    [[0, 7.35], [-0.35, 6.9], [-0.7, 3.75], [-0.9, 1.0], [-0.5, -0.1], [0, -0.35], [0.5, -0.1], [0.97, 1.0], [0.7, 3.75], [0.35, 6.9], [0, 7.35]],
    [[0, 6.2], [-0.3, 5.7], [-0.52, 3.3], [-0.7, 0.7], [-0.3, -0.1], [0, -0.25], [0.3, -0.1], [0.7, 0.7], [0.6, 3.3], [0.3, 5.7], [0, 6.2]],
    [[0, 4.1], [-0.3, 4.0], [-0.45, 2.0], [-0.4, 0.4], [0, -0.1], [0.4, 0.4], [0.45, 2.0], [0.3, 4.0], [0, 4.1]],
];
const umi8Dots: Dot[] = [
    [-19.1, 19.35, 'o'], [-17.45, 18.4, 'o'], [-17.35, 10.9, 'g'], [-17.6, 8.4, 'g'], [-18.0, 7.1, 'g'], [-16.7, 8.65, 'g'], [-15.75, 9.45, 'g'], [-17.35, 4.45, 'g'], [-14.65, 11.6, 'o'], [-14.1, 12.2, 'o'], [-12.15, 11.6, 'g'], [-11.3, 6.4, 'g'], [-11.1, 12.6, 'b'], [-10.9, 20, 'g'], [-9.9, 12.05, 'k'], [-9.3, 16.3, 'b'], [-9.0, 15.6, 'b'], [-8.95, 8.4, 'b'], [-8.6, 6.45, 'b'], [-9.25, 5.45, 'g'], [-8.3, 2.95, 'g'], [-8.3, 18.5, 'k'], [-5.25, 17.9, 'k'], [-4.0, 17.35, 'k'], [-4.55, 11.6, 'k'], [-4.3, 7.1, 'k'], [-3.75, 4.2, 'k'], [-3.1, 8.9, 'k'],
    [-0.82, 16.6, 'k'], [-0.7, 10.05, 'k'], [-1.5, 7.1, 'k'], [-1.35, 6.55, 'k'], [-1.75, 3.85, 'k'], [-2.3, 2.8, 'k'], [-2.0, 2.2, 'k'], [-5.7, 2.9, 'b'], [-5.6, 1.95, 'b'], [-5.45, 1.8, 'b'], [-1.5, 0.1, 'b'], [-0.33, -0.4, 'b'], [0.7, 5.4, 'k'], [1.25, 5.4, 'k'], [1.15, 4.3, 'k'], [1.4, 3.2, 'k'], [1.7, 2.25, 'k'], [1.65, 0.35, 'k'], [2.75, 1.85, 'k'], [1.08, 1.78, 'b'],
    [-7.6, -0.95, 'o'], [-6.9, -0.55, 'g'], [-5.65, -1.4, 'o'], [-5.45, -3.15, 'r'], [-4.6, -3.05, 'r'], [-4.25, -1.5, 'g'], [-4.0, -2.5, 'r'], [-3.3, -0.55, 'g'], [-2.8, -1.1, 'g'], [-2.25, -2.35, 'o'], [-2.1, -2.9, 'r'], [-2.0, -0.95, 'g'], [-1.0, -2.9, 'r'], [-2.5, -4.7, 'r'], [-1.15, -4.8, 'r'], [0.45, -4.2, 'r'], [0.37, -5.5, 'r'], [1.0, -5.5, 'r'], [1.4, -2.6, 'r'], [0.5, -1.25, 'o'], [0.97, -1.65, 'o'], [0.97, -0.85, 'g'], [1.4, -0.6, 'g'], [1.7, -0.45, 'g'], [2.4, -0.95, 'g'], [2.7, -1.55, 'o'], [2.9, -0.6, 'g'], [3.05, -0.75, 'g'], [3.2, -3.4, 'r'], [3.5, -3.5, 'r'], [3.1, -4.75, 'r'], [3.4, -4.55, 'r'], [-0.6, -0.8, 'g'], [0.22, -0.8, 'g'],
    [4.7, 1.15, 'b'], [3.95, 5.65, 'k'], [4.3, 9.7, 'k'], [5.25, 8.5, 'k'], [6.9, 9.6, 'k'], [6.6, 5.9, 'b'], [7.65, 4.9, 'b'], [5.6, -1.4, 'o'], [6.4, 0.1, 'g'], [6.6, -0.85, 'g'], [7.75, -0.35, 'g'], [9.8, -0.5, 'o'], [10.95, 0.4, 'g'], [11.65, 0.65, 'g'], [12.1, 2.2, 'g'], [13.25, 3.45, 'g'], [13.9, 6.3, 'g'], [14.05, 7.65, 'g'], [11.8, 7.55, 'g'], [10.25, 8.9, 'g'], [14.45, 9.6, 'g'], [15.0, 1.05, 'o'], [16.9, 11.7, 'o'], [18.15, 7.75, 'o'],
    [8.4, 19.9, 'k'], [9.35, 14.6, 'k'], [10.25, 11.45, 'k'], [12.05, 12.1, 'b'], [12.55, 12.85, 'b'], [13.4, 14.05, 'g'], [12.65, 17.25, 'b'], [13.7, 16.8, 'g'],
];

const umi16Curves: Pt[][] = [
    [[-1.6, 20], [-2.0, 16.4], [-2.54, 11.7], [-2.84, 7.0], [-2.65, 3.75], [-2.17, 2.34], [-1.9, 1.87], [-1.43, 0.94], [-0.87, 0.23], [0, -0.23], [0.6, 0.1], [1.0, 0.9], [1.35, 1.64], [2.28, 2.34], [2.84, 3.75], [2.9, 7.0], [2.65, 11.7], [2.0, 16.4], [1.65, 20]],
    [[0, 8.2], [-0.3, 7.8], [-0.57, 5.6], [-0.95, 2.8], [-1.05, 1.1], [-0.6, 0.1], [0, -0.2], [0.6, 0.1], [1.1, 1.1], [1.0, 2.8], [0.6, 5.6], [0.3, 7.8], [0, 8.2]],
    [[0, 6.0], [-0.25, 5.6], [-0.43, 3.3], [-0.57, 1.0], [-0.3, 0.05], [0, -0.1], [0.3, 0.05], [0.6, 1.0], [0.5, 3.3], [0.25, 5.6], [0, 6.0]],
    [[0, 4.9], [-0.2, 4.6], [-0.35, 2.3], [-0.4, 0.7], [0, 0], [0.4, 0.7], [0.43, 2.3], [0.2, 4.6], [0, 4.9]],
    [[0, 3.5], [-0.25, 3.3], [-0.3, 1.5], [-0.25, 0.3], [0, 0.1], [0.25, 0.3], [0.3, 1.5], [0.25, 3.3], [0, 3.5]],
];
const umi16Dots: Dot[] = [
    [-19.4, 14.0, 'r'], [-19.1, 14.4, 'r'], [-17.2, 11.4, 'r'], [-16.7, 12.5, 'r'], [-16.1, 9.4, 'r'], [-15.8, 12.7, 'r'], [-19.0, 2.1, 'r'],
    [-19.4, 5.7, 'o'], [-17.3, 8.8, 'o'], [-16.3, 7.7, 'o'], [-17.3, 3.7, 'o'], [-15.0, 8.2, 'o'], [-13.8, 1.7, 'o'], [-14.0, -0.7, 'o'], [-11.9, 7.3, 'o'], [-11.5, 7.0, 'o'], [-12.0, 6.1, 'o'],
    [-11.7, 14.3, 'g'], [-11.5, 14.0, 'g'], [-8.2, 5.5, 'g'], [-9.0, 0.65, 'g'], [-5.5, 0.4, 'g'], [-5.4, 0.2, 'g'], [-2.4, -0.3, 'g'], [-1.5, -0.1, 'g'],
    [-10.3, 18.8, 'b'], [-10.3, 15.2, 'b'], [-9.9, 15.2, 'b'], [-8.6, 14.3, 'b'], [-6.7, 8.2, 'b'], [-5.8, 4.3, 'b'], [-4.0, 2.4, 'b'], [-3.9, 2.6, 'b'], [-2.9, 0.8, 'b'], [-0.8, 0.1, 'b'],
    [-6.5, 19.5, 'k'], [-3.7, 19.5, 'k'], [-3.7, 18.7, 'k'], [-3.7, 17.9, 'k'], [-7.7, 17.8, 'k'], [-7.2, 17.3, 'k'], [-7.8, 14.8, 'k'], [-6.2, 15.1, 'k'], [-5.3, 13.8, 'k'], [-3.1, 15.6, 'k'], [-5.8, 10.0, 'k'], [-4.7, 9.1, 'k'], [-4.5, 10.5, 'k'], [-3.5, 10.5, 'k'], [-3.7, 6.0, 'k'], [-3.7, 4.8, 'k'], [-5.1, 4.8, 'k'], [-1.8, 14.5, 'k'], [-1.7, 9.3, 'k'], [-2.1, 6.3, 'k'], [-1.3, 6.9, 'k'], [-1.3, 6.2, 'k'], [-2.6, 10.6, 'k'], [-2.1, 2.1, 'k'],
    [0, 12.5, 'k'], [0.4, 16.3, 'k'], [1.6, 14.3, 'k'], [2.0, 10.3, 'k'], [2.3, 7.4, 'k'], [2.7, 7.6, 'k'], [2.9, 7.9, 'k'], [1.2, 5.7, 'k'], [2.9, 5.6, 'k'], [3.0, 5.8, 'k'], [2.1, 4.1, 'k'], [2.7, 4.0, 'k'], [2.9, 4.1, 'k'], [2.6, 2.9, 'k'], [1.8, 3.4, 'k'], [3.1, 17.7, 'k'], [4.6, 17.1, 'k'], [4.4, 13.0, 'k'], [4.7, 10.2, 'k'], [4.9, 9.4, 'k'], [3.9, 6.7, 'k'], [4.4, 4.3, 'k'], [5.9, 6.4, 'k'], [6.8, 17.7, 'k'], [7.5, 10.4, 'k'],
    [9.2, 19.7, 'b'], [8.9, 15.7, 'b'], [9.4, 10.4, 'b'], [10.7, 14.6, 'b'],
    [11.5, 15.2, 'g'], [11.8, 15.4, 'g'], [12.4, 14.2, 'g'], [6.2, 2.4, 'g'], [6.0, 0.35, 'g'], [4.1, 0.25, 'g'], [7.7, 6.7, 'g'], [8.1, 6.4, 'g'], [7.9, 5.5, 'g'], [7.9, 4.6, 'g'], [8.9, 4.5, 'g'], [12.9, 8.6, 'g'], [13.4, 5.2, 'g'], [13.8, 4.6, 'g'], [11.9, 3.1, 'g'], [10.2, 2.4, 'g'], [7.7, 0.25, 'g'], [2.3, -0.4, 'g'], [1.4, -0.1, 'g'],
    [9.5, -0.4, 'o'], [9.8, 0.7, 'o'], [10.2, 0.2, 'o'], [10.6, 0.5, 'o'], [11.0, -0.4, 'o'], [11.7, 1.0, 'o'], [11.0, 9.6, 'o'], [16.0, 17.4, 'o'], [16.2, 6.5, 'o'], [17.9, 6.7, 'o'], [18.4, 8.0, 'o'], [-1.0, -0.5, 'o'],
    [15.0, 12.6, 'r'], [18.9, 15.8, 'r'], [-3.6, -1.8, 'r'], [-3.1, -1.8, 'r'], [-5.3, -2.6, 'r'], [-1.3, -2.5, 'r'], [-0.7, -2.4, 'r'], [-0.1, -3.4, 'r'], [-3.1, -3.9, 'r'], [-2.6, -3.9, 'r'], [-2.3, -4.4, 'r'], [-3.6, -5.0, 'r'], [-4.9, -5.3, 'r'], [-5.6, -6.0, 'r'], [-0.3, -5.0, 'r'], [2.1, -4.7, 'r'], [3.5, -5.6, 'r'], [4.8, -5.7, 'r'], [-1.3, -5.9, 'r'], [-1.8, -6.1, 'r'], [-2.1, -6.5, 'r'], [-2.3, -7.3, 'r'], [-2.2, -7.7, 'r'], [-1.4, -7.1, 'r'], [-1.1, -7.1, 'r'], [-0.9, -8.0, 'r'], [-0.5, -8.4, 'r'], [1.6, -7.3, 'r'], [1.4, -1.6, 'r'], [-0.6, -1.3, 'r'], [-0.4, -1.5, 'r'], [-0.2, -1.2, 'r'], [0.2, -0.3, 'r'],
];

interface PanelCfg {
    title: string;
    x: number; y: number; w: number; h: number;
    lx: number; ly: number;
    curves: Pt[][];
    dots: Dot[];
    jagged?: boolean;
}

const panels: PanelCfg[] = [
    { title: 'RMa Exclusion Zone with Angular Protection(4*4 Antenna Array)', x: 49.3, y: 29.3, w: 359.4, h: 283, lx: 197.7, ly: 236.3, curves: rma4Curves, dots: rma4Dots, jagged: true },
    { title: 'RMa Exclusion Zone with Angular Protection(8*8 Antenna Array)', x: 461.3, y: 29.3, w: 359.7, h: 283, lx: 608.7, ly: 229.7, curves: rma8Curves, dots: rma8Dots, jagged: true },
    { title: 'RMa Exclusion Zone with Angular Protection(16*16 Antenna Array)', x: 874.3, y: 29.3, w: 359.7, h: 283, lx: 1021.3, ly: 234.7, curves: rma16Curves, dots: rma16Dots, jagged: true },
    { title: 'UMa Exclusion Zone with Angular Protection(4*4 Antenna Array)', x: 45.7, y: 420.3, w: 359, h: 283, lx: 190.7, ly: 624.7, curves: uma4Curves, dots: uma4Dots },
    { title: 'UMa Exclusion Zone with Angular Protection(8*8 Antenna Array)', x: 459.3, y: 420.3, w: 359.7, h: 283, lx: 605.7, ly: 622.7, curves: uma8Curves, dots: uma8Dots },
    { title: 'UMa Exclusion Zone with Angular Protection(16*16 Antenna Array)', x: 875.7, y: 420.3, w: 359, h: 283, lx: 1021.7, ly: 623.3, curves: uma16Curves, dots: uma16Dots },
    { title: 'UMi Exclusion Zone with Angular Protection(4*4 Antenna Array)', x: 47, y: 804.3, w: 360, h: 284.7, lx: 197.3, ly: 1009.3, curves: umi4Curves, dots: umi4Dots },
    { title: 'UMi Exclusion Zone with Angular Protection(8*8 Antenna Array)', x: 460.3, y: 804.3, w: 358.7, h: 284.7, lx: 604.3, ly: 1007.7, curves: umi8Curves, dots: umi8Dots },
    { title: 'UMi Exclusion Zone with Angular Protection(16*16 Antenna Array)', x: 871.3, y: 804.3, w: 359.7, h: 284.7, lx: 1019.3, ly: 1006.7, curves: umi16Curves, dots: umi16Dots },
];

const panelLabels = [
    { text: 'a', x: 628, y: 370 },
    { text: 'b', x: 628, y: 763 },
    { text: 'c', x: 628, y: 1146 },
];

const PAD_L = 50;
const PAD_T = 30;
const PAD_R = 15;
const PAD_B = 50;

const NoShape = () => <g />;

function LegendBox() {
    return (
        <div style={{ width: 205, height: 69, border: '1px solid #262626', background: '#fff', boxSizing: 'border-box', position: 'relative', fontFamily: FONT, fontSize: 10, color: '#000' }}>
            {seriesNames.map((name, i) => (
                <div key={name} style={{ position: 'absolute', left: 0, top: 7.4 + i * 13.5 - 7, height: 14, display: 'flex', alignItems: 'center', whiteSpace: 'nowrap' }}>
                    <svg width={37.5} height={14} style={{ display: 'block' }}>
                        <line x1={1.5} x2={33.6} y1={7} y2={7} stroke={seriesColors[i]} strokeWidth={3} />
                    </svg>
                    <span>{name}</span>
                </div>
            ))}
        </div>
    );
}

function Panel({ cfg }: { cfg: PanelCfg }) {
    const W = cfg.w + PAD_L + PAD_R;
    const H = cfg.h + PAD_T + PAD_B;
    const pTop = PAD_T;
    const pBot = PAD_T + cfg.h;
    const pLeft = PAD_L;
    const pRight = PAD_L + cfg.w;
    const left = cfg.x - PAD_L;
    const top = cfg.y - PAD_T;

    const xTick = (props: any) => {
        const cx = props.x;
        return (
            <g>
                <line x1={cx} x2={cx} y1={pBot} y2={pBot - 3.5} stroke="#262626" strokeWidth={0.8} />
                <line x1={cx} x2={cx} y1={pTop} y2={pTop + 3.5} stroke="#262626" strokeWidth={0.8} />
                <text x={cx} y={pBot + 12.7} textAnchor="middle" dominantBaseline="central" fontSize={11} fontFamily={FONT} fill="#333">{props.payload.value}</text>
            </g>
        );
    };
    const yTick = (props: any) => {
        const cy = props.y;
        return (
            <g>
                <line x1={pLeft} x2={pLeft + 3.5} y1={cy} y2={cy} stroke="#262626" strokeWidth={0.8} />
                <line x1={pRight} x2={pRight - 3.5} y1={cy} y2={cy} stroke="#262626" strokeWidth={0.8} />
                <text x={pLeft - 5} y={cy} textAnchor="end" dominantBaseline="central" fontSize={11} fontFamily={FONT} fill="#333">{props.payload.value}</text>
            </g>
        );
    };

    return (
        <>
            <div style={{ position: 'absolute', left, top, width: W, height: H }}>
                <ScatterChart width={W} height={H} margin={{ top: PAD_T, right: PAD_R, bottom: 0, left: 0 }}>
                    <CartesianGrid stroke="#e1e1e1" strokeWidth={0.9} />
                    <XAxis type="number" dataKey="x" domain={[-20, 20]} ticks={axisTicks} interval={0} height={PAD_B} axisLine={false} tickLine={false} tick={xTick} allowDataOverflow />
                    <YAxis type="number" dataKey="y" domain={[-20, 20]} ticks={axisTicks} interval={0} width={PAD_L} axisLine={false} tickLine={false} tick={yTick} allowDataOverflow />
                    <ReferenceArea x1={-20} x2={20} y1={-20} y2={20} fill="none" fillOpacity={0} stroke="#262626" strokeWidth={0.9} ifOverflow="visible" />
                    {cfg.curves.map((pts, i) => (
                        <Scatter
                            key={'c' + i}
                            name={seriesNames[i]}
                            data={pts.map(([x, y]) => ({ x, y }))}
                            line={{ stroke: seriesColors[i], strokeWidth: 2.6, strokeLinejoin: 'round' }}
                            lineJointType={cfg.jagged && i === 4 ? 'linear' : 'natural'}
                            shape={NoShape}
                            legendType="line"
                            fill={seriesColors[i]}
                            isAnimationActive={false}
                        />
                    ))}
                    {dotKinds.map((k) => (
                        <Scatter
                            key={'d' + k}
                            data={cfg.dots.filter((d) => d[2] === k).map(([x, y]) => ({ x, y }))}
                            fill={dotFill[k]}
                            legendType="none"
                            shape={(p: any) => <circle cx={p.cx} cy={p.cy} r={2.1} fill={dotFill[k]} stroke={dotEdge[k]} strokeWidth={0.9} />}
                            isAnimationActive={false}
                        />
                    ))}
                    <Legend
                        layout="vertical"
                        verticalAlign="middle"
                        align="center"
                        content={() => <LegendBox />}
                        wrapperStyle={{ left: cfg.lx - left, top: cfg.ly - top, width: 205, height: 69 }}
                    />
                </ScatterChart>
            </div>
            <div style={{ position: 'absolute', left: cfg.x + cfg.w / 2, top: cfg.y - 11, transform: 'translate(-50%, -50%)', whiteSpace: 'nowrap', fontFamily: FONT, fontSize: 12, fontWeight: 'bold', color: '#000' }}>
                {cfg.title}
            </div>
            <div style={{ position: 'absolute', left: cfg.x + cfg.w / 2, top: cfg.y + cfg.h + 28.5, transform: 'translate(-50%, -50%)', whiteSpace: 'nowrap', fontFamily: FONT, fontSize: 12, color: '#262626' }}>
                X Coordinate(km)
            </div>
            <div style={{ position: 'absolute', left: cfg.x - 32, top: cfg.y + cfg.h / 2, transform: 'translate(-50%, -50%) rotate(-90deg)', whiteSpace: 'nowrap', fontFamily: FONT, fontSize: 12, color: '#262626' }}>
                Y Coordinate(km)
            </div>
        </>
    );
}

export default function App() {
    return (
        <div style={{ position: 'absolute', left: 0, top: 0, width: 1253, height: 1162, background: '#fff', overflow: 'hidden' }}>
            {panels.map((p) => (
                <Panel key={p.title} cfg={p} />
            ))}
            {panelLabels.map((l) => (
                <div key={l.text} style={{ position: 'absolute', left: l.x, top: l.y, transform: 'translate(-50%, -50%)', fontFamily: '"Liberation Serif", "DejaVu Serif", serif', fontSize: 23, color: '#000', whiteSpace: 'nowrap' }}>
                    (<b>{l.text}</b>)
                </div>
            ))}
        </div>
    );
}
